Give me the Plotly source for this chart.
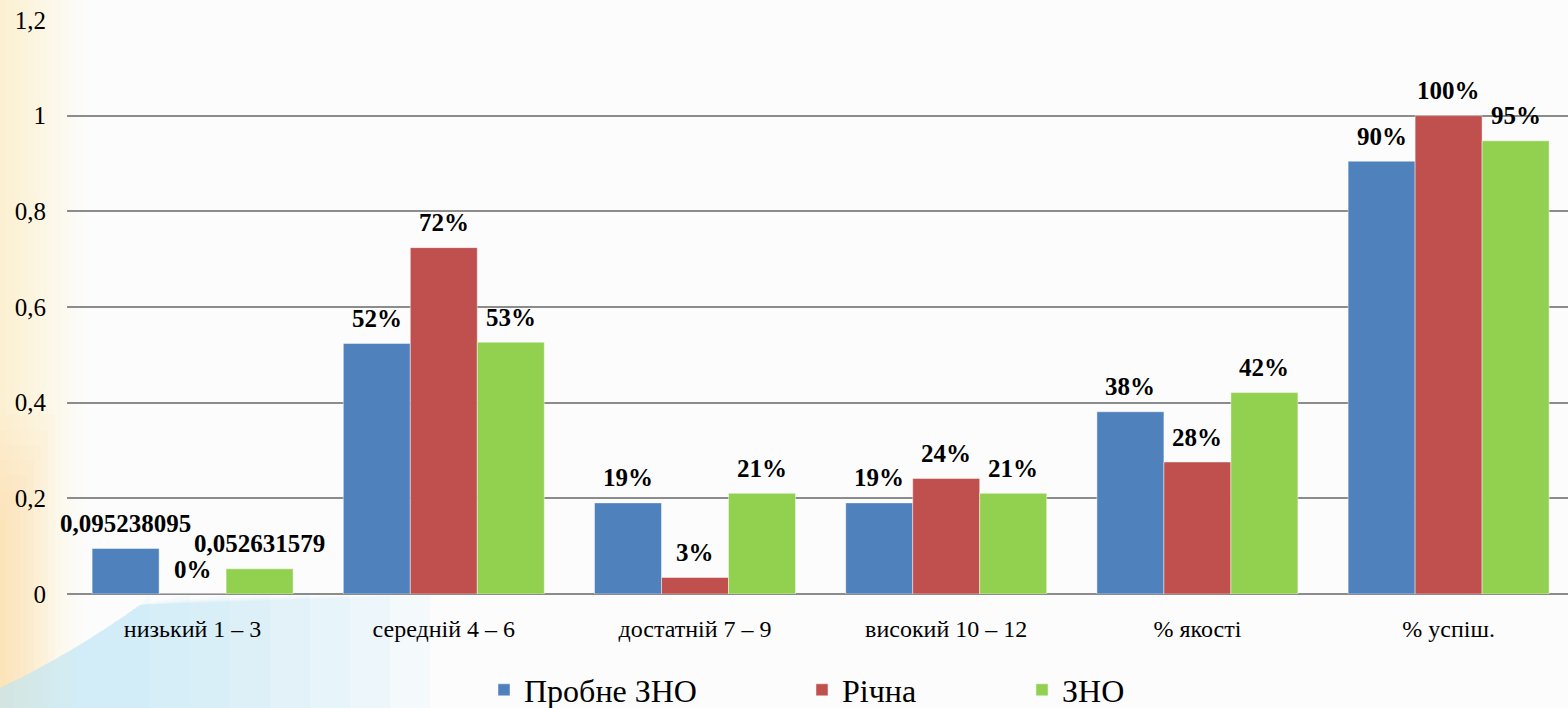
import plotly.graph_objects as go

categories = ["низький 1 – 3", "середній 4 – 6", "достатній 7 – 9", "високий 10 – 12", "% якості", "% успіш."]
series_names = ["Пробне ЗНО", "Річна", "ЗНО"]
probne = [0.095238095, 0.5238, 0.1905, 0.1905, 0.381, 0.9048]
richna = [0.0, 0.7241, 0.0345, 0.2414, 0.2759, 1.0]
zno = [0.052631579, 0.5263, 0.2105, 0.2105, 0.4211, 0.9474]
raw_label_first = [True, False, True]  # first category label shown as raw number
colors = ["#4F81BD", "#C0504D", "#92D050"]
y_ticks = [0, 0.2, 0.4, 0.6, 0.8, 1.0, 1.2]

W, H = 1568, 708
L, R, T, B = 67, 0, 20, 114
GROUP_PX = 251.2
BARGAP = 0.2
SERIF = "Liberation Serif, Times New Roman, serif"
PLOT_W = W - L - R
X_RANGE = [-0.5, -0.5 + PLOT_W / GROUP_PX]


def px_x(px):
    return (px - L) / PLOT_W


def px_y(py):
    return (H - B - py) / (H - T - B)


def labels(vals, raw_first):
    out = []
    for i, v in enumerate(vals):
        if i == 0 and raw_first:
            out.append(f"{v:.9f}".replace(".", ","))
        else:
            out.append(f"{round(v * 100):d}%")
    return out


fig = go.Figure()
legend_ids = ["legend", "legend2", "legend3"]
all_vals = [probne, richna, zno]
for name, vals, col, lg in zip(series_names, all_vals, colors, legend_ids):
    fig.add_trace(go.Bar(
        name=name, x=categories, y=vals, marker_color=col,
        marker_line=dict(color="rgba(255,255,255,0.45)", width=1),
        legend=lg,
    ))

# data labels: one per bar, placed via the category axis plus the group offset
n_series = len(series_names)
bar_px = GROUP_PX * (1 - BARGAP) / n_series
annotations = []
for k, (vals, raw) in enumerate(zip(all_vals, raw_label_first)):
    for cat, v, txt in zip(categories, vals, labels(vals, raw)):
        annotations.append(dict(
            x=cat, y=v, xref="x", yref="y", text=f"<b>{txt}</b>", showarrow=False,
            xshift=(k - (n_series - 1) / 2) * bar_px, yshift=25, yanchor="middle",
            font=dict(family=SERIF, size=25, color="black"),
        ))

shapes = []
# warm tint along left edge
for i in range(12):
    w = 6 + i * 7
    shapes.append(dict(type="rect", xref="paper", yref="paper", x0=px_x(0), x1=px_x(w),
                       y0=px_y(H), y1=px_y(0), fillcolor="rgba(253,228,160,0.04)",
                       line_width=0, layer="below"))
for i in range(8):
    w = 6 + i * 7
    top = 520 - i * 15
    shapes.append(dict(type="rect", xref="paper", yref="paper", x0=px_x(0), x1=px_x(w),
                       y0=px_y(H), y1=px_y(top), fillcolor="rgba(252,205,130,0.045)",
                       line_width=0, layer="below"))
# blue swoosh bottom-left
for i in range(8):
    right = 150 + i * 40
    path = (f"M {px_x(0)},{px_y(H)} L {px_x(0)},{px_y(688)} "
            f"Q {px_x(70)},{px_y(655)} {px_x(140)},{px_y(605)} "
            f"L {px_x(right)},{px_y(595)} L {px_x(right)},{px_y(H)} Z")
    shapes.append(dict(type="path", xref="paper", yref="paper", path=path,
                       fillcolor="rgba(190,228,248,0.13)", line_width=0, layer="below"))

legend_common = dict(orientation="h", xref="container", yref="container", y=(H - 690) / H,
                     xanchor="left", yanchor="middle", font=dict(family=SERIF, size=32),
                     bgcolor="rgba(0,0,0,0)")

fig.update_layout(
    width=W, height=H,
    margin=dict(l=L, r=R, t=T, b=B),
    paper_bgcolor="#fcfcfc", plot_bgcolor="rgba(0,0,0,0)",
    separators=", ",
    barmode="group", bargap=BARGAP, bargroupgap=0,
    font=dict(family=SERIF, size=24, color="black"),
    shapes=shapes,
    annotations=annotations,
    showlegend=True,
    legend=dict(legend_common, x=484 / W),
    legend2=dict(legend_common, x=802 / W),
    legend3=dict(legend_common, x=1022 / W),
    xaxis=dict(range=X_RANGE, showgrid=False, showline=False, ticks="", ticklabelstandoff=18,
               tickfont=dict(size=24), automargin=False),
    yaxis=dict(range=[0, 1.2], tickvals=y_ticks, showgrid=True, gridcolor="#8c8c8c", gridwidth=1.5,
               zeroline=True, zerolinecolor="#8c8c8c", zerolinewidth=1.5, showline=False,
               ticks="", ticklabelstandoff=20, tickfont=dict(size=25), automargin=False),
)

fig.write_html("out.html", config={"displayModeBar": False},
               post_script="document.body.style.margin='0';document.body.style.overflow='hidden';")
